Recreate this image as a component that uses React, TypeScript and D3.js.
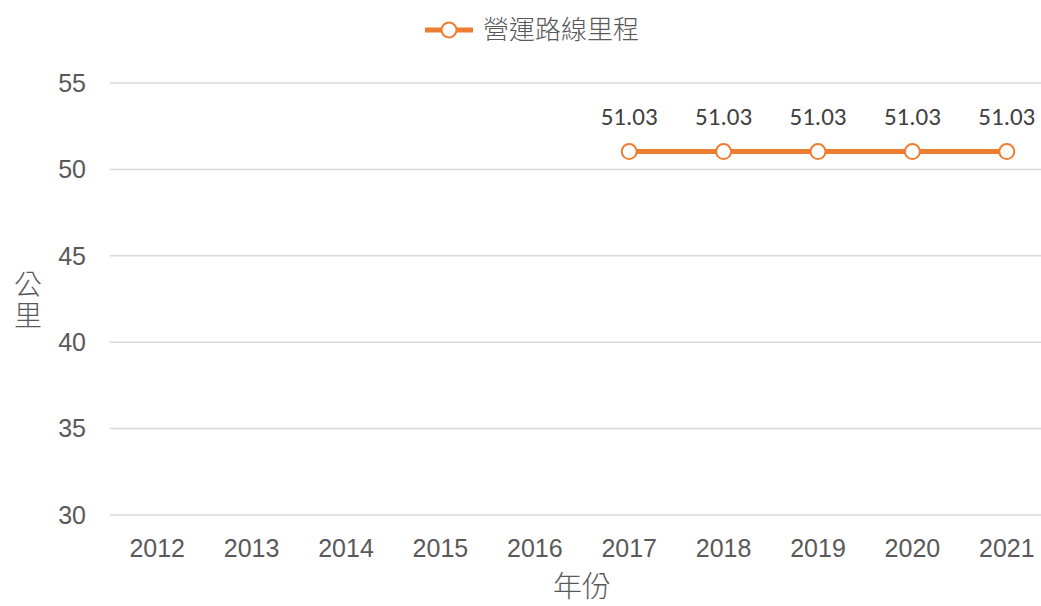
import React from 'react';
import * as d3 from 'd3';

const years = ['2012', '2013', '2014', '2015', '2016', '2017', '2018', '2019', '2020', '2021'];
const mileage: (number | null)[] = [null, null, null, null, null, 51.03, 51.03, 51.03, 51.03, 51.03];
const yTicks = [30, 35, 40, 45, 50, 55];

const seriesName = '營運路線里程';
const orange = '#ed7d31';
const grey = '#595959';

const W = 1041;
const H = 606;

const App = () => {
  const x = d3.scaleBand().domain(years).range([110, 1054]);
  const y = d3.scaleLinear().domain([30, 55]).range([515, 83]);
  const cx = (d: string) => (x(d) ?? 0) + x.bandwidth() / 2;

  const points = years
    .map((yr, i) => ({ yr, v: mileage[i] }))
    .filter(p => p.v !== null) as { yr: string; v: number }[];

  const line = d3.line<{ yr: string; v: number }>()
    .x(d => cx(d.yr))
    .y(d => y(d.v));

  const cjk = 'Noto Sans CJK TC, sans-serif';

  return (
    <svg width={W} height={H} style={{ position: 'absolute', left: 0, top: 0, background: '#fff' }}>
      {/* gridlines */}
      {yTicks.map(t => (
        <line key={t} x1={110} x2={W} y1={y(t)} y2={y(t)} stroke="#d9d9d9" strokeWidth={1.5} />
      ))}
      {yTicks.map(t => (
        <text key={'l' + t} x={86} y={y(t)} dy="0.35em" textAnchor="end"
          fontFamily="Liberation Sans, Arial, sans-serif" fontSize={25} fill={grey}>{t}</text>
      ))}
      {years.map(yr => (
        <text key={yr} x={cx(yr)} y={557} textAnchor="middle"
          fontFamily="Liberation Sans, Arial, sans-serif" fontSize={25} fill={grey}>{yr}</text>
      ))}

      {/* axis titles (y title stacked vertically) */}
      <text textAnchor="middle" fontFamily={cjk} fontWeight={300} fontSize={28} fill={grey}>
        <tspan x={28} y={295}>公</tspan>
        <tspan x={28} dy={31}>里</tspan>
      </text>
      <text x={582} y={597} textAnchor="middle" fontFamily={cjk} fontWeight={300} fontSize={29} fill={grey}>年份</text>

      {/* series */}
      <path d={line(points) ?? ''} fill="none" stroke={orange} strokeWidth={5} />
      {points.map(p => (
        <g key={p.yr}>
          <circle cx={cx(p.yr)} cy={y(p.v)} r={7.5} fill="#fff" stroke={orange} strokeWidth={2} />
          <text x={cx(p.yr)} y={125} textAnchor="middle"
            fontFamily="Carlito, Open Sans, sans-serif" fontSize={25} fill="#404040">{p.v.toFixed(2)}</text>
        </g>
      ))}

      {/* legend */}
      <line x1={425} x2={473} y1={30} y2={30} stroke={orange} strokeWidth={5} />
      <circle cx={449} cy={30} r={7.5} fill="#fff" stroke={orange} strokeWidth={2} />
      <text x={483} y={30} dy="0.35em" fontFamily={cjk} fontWeight={300} fontSize={26} fill={grey}>{seriesName}</text>
    </svg>
  );
};

export default App;
